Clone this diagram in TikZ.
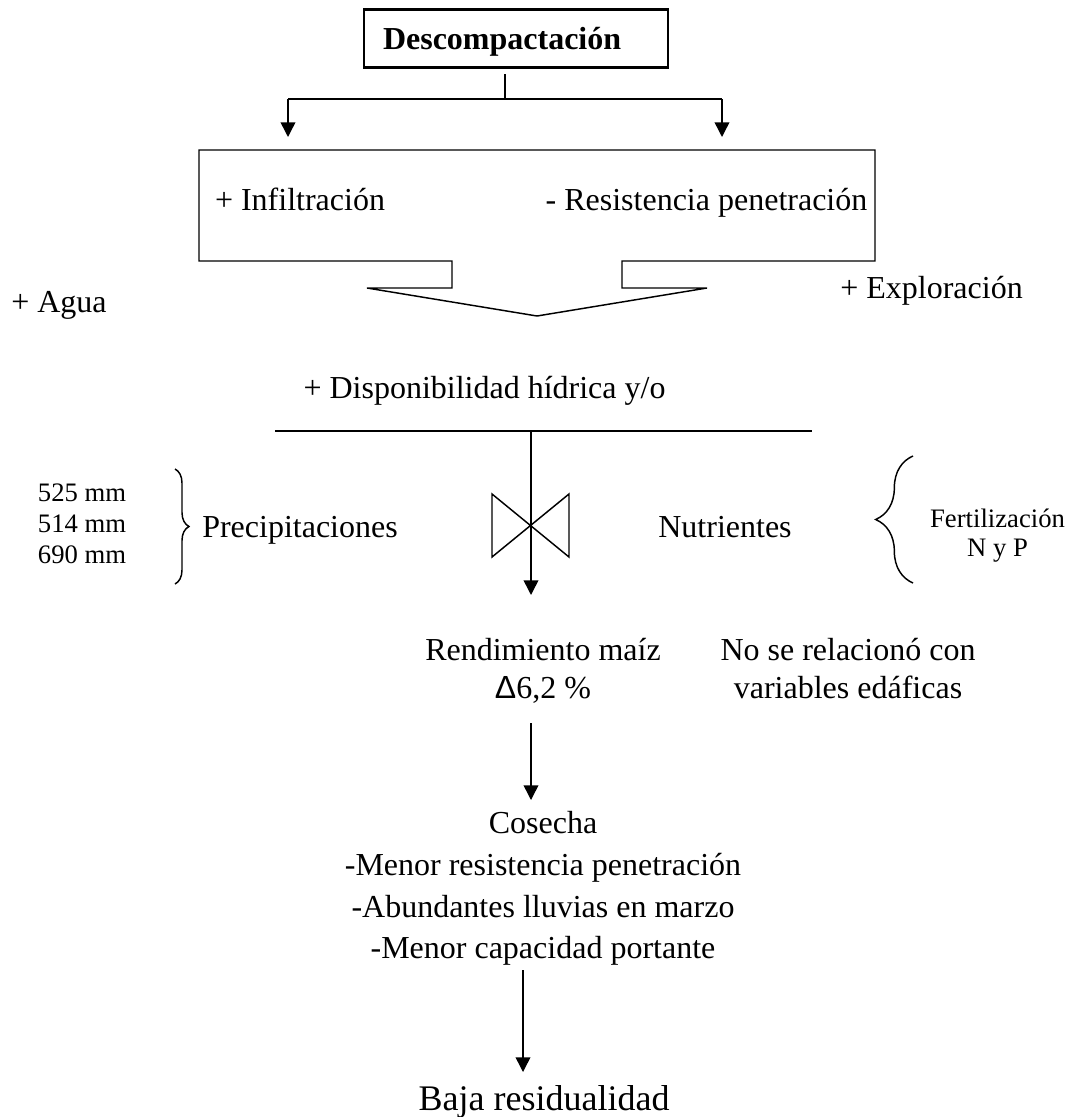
\documentclass[tikz,border=0pt]{standalone}
\usepackage{fontspec}
\setmainfont{Liberation Serif}
\newfontfamily\deltafont{Liberation Sans}
\usepackage{tikz}
\usetikzlibrary{arrows.meta,decorations.pathreplacing}
\newcommand{\txtn}{\fontsize{24}{31.25}\selectfont}
\newcommand{\txts}{\fontsize{20}{23.25}\selectfont}
\newcommand{\txtl}{\fontsize{27}{32}\selectfont}
\tikzset{
  ln/.style={line width=1.1pt},
  ar/.style={-{Triangle[length=11pt,width=11pt]}, line width=1.1pt},
  txt/.style={inner sep=0pt, font=\txtn},
  sml/.style={inner sep=0pt, font=\txts, align=center},
  titbox/.style={draw, line width=2.2pt, minimum height=44pt, text width=199.5pt,
                 text height=22pt, text depth=5pt,
                 inner xsep=14.25pt, align=left, font=\bfseries\txtn},
  brc/.style={decorate, line width=1.1pt, decoration={brace, amplitude=#1}},
}
\begin{document}
\begin{tikzpicture}[x=0.75pt, y=-0.75pt]
  \useasboundingbox (0,0) rectangle (1074,1117);
  % --- descompactación ---
  \node[titbox] (desc) at (516,38.5) {Descompactación};
  \coordinate (stub) at (505,74);
  \coordinate (split) at (505,99);
  \coordinate (jl) at (288,99);
  \coordinate (jr) at (722,99);
  \coordinate (tl) at (288,137);
  \coordinate (tr) at (722,137);
  \draw[line width=2pt] (stub) -- (split);
  \draw[ln] (jl) -- (jr);
  \draw[ar] (jl) -- (tl);
  \draw[ar] (jr) -- (tr);

  % --- caja con embudo ---
  \draw[ln] (199,150) -- (875,150) -- (875,261) -- (622,261) -- (622,288)
    -- (707,288) -- (537,316) -- (367,288) -- (452,288) -- (452,261)
    -- (199,261) -- cycle;
  \node[txt, anchor=base] (infil) at (300,210.5) {+ Infiltración};
  \node[txt, anchor=base] (resis) at (706.5,210.5) {- Resistencia penetración};
  \node[txt, anchor=base] (agua) at (59,312.5) {+ Agua};
  \node[txt, anchor=base] (explo) at (931.5,298.5) {+ Exploración};

  % --- disponibilidad ---
  \node[txt, anchor=base] (disp) at (484.5,398.5) {+ Disponibilidad hídrica y/o};
  \coordinate (barl) at (275,431);
  \coordinate (barr) at (812,431);
  \coordinate (bar) at (531,431);
  \coordinate (rendtop) at (531,595);
  \draw[line width=1.8pt] (barl) -- (barr);
  \draw[ln] (492,494) -- (569,557) -- (569,494) -- (492,557) -- cycle;
  \draw[ar] (bar) -- (rendtop);

  \node[sml] (mm) at (82,523.8) {525 mm\\514 mm\\690 mm};
  \draw[brc=10.5pt] (175,469) -- (175,584);
  \node[txt, anchor=base] (precip) at (300,537.5) {Precipitaciones};
  \node[txt, anchor=base] (nutri) at (725,537.5) {Nutrientes};
  \draw[brc=28pt] (913,583) -- (913,456);
  \node[sml, font=\fontsize{20}{21.75}\selectfont] (fert) at (997.5,536) {Fertilización\\N y P};

  % --- rendimiento ---
  \node[txt, align=center, font=\fontsize{24}{28.5}\selectfont] (rend) at (543,670.8)
       {Rendimiento maíz\\{\deltafont Δ}6,2 \%};
  \node[txt, align=center, font=\fontsize{24}{28.5}\selectfont] (norel) at (848,668.5)
       {No se relacionó con\\variables edáficas};
  \coordinate (r1) at (531,723);
  \coordinate (r2) at (531,800);
  \draw[ar] (r1) -- (r2);

  % --- cosecha ---
  \node[txt, align=center] (cos) at (543,888.5)
       {Cosecha\\-Menor resistencia penetración\\-Abundantes lluvias en marzo\\-Menor capacidad portante};
  \coordinate (c1) at (523,970);
  \coordinate (c2) at (523,1072);
  \draw[ar] (c1) -- (c2);
  \node[txt, font=\txtl, anchor=base] (baja) at (544,1110) {Baja residualidad};
\end{tikzpicture}
\end{document}
